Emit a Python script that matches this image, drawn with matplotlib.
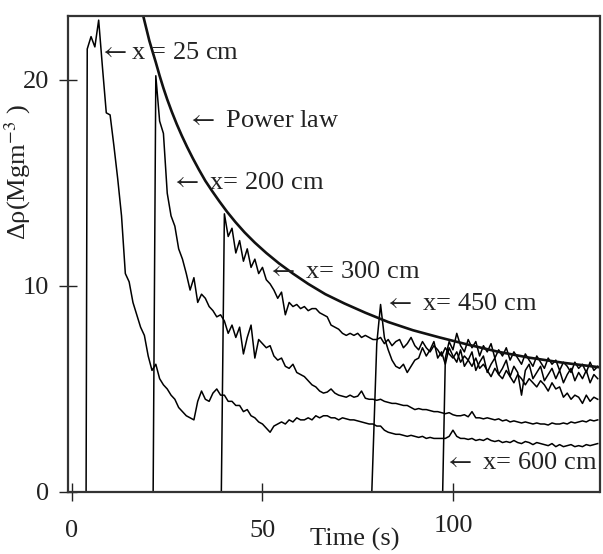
import numpy as np
import matplotlib
matplotlib.use('Agg')
import matplotlib.pyplot as plt
from matplotlib.transforms import ScaledTranslation

plt.rcParams['font.family'] = ['Liberation Serif', 'DejaVu Serif']
plt.rcParams['mathtext.fontset'] = 'stix'

# arrival time of each front (s), first sample time, then one reading per second
a_start, a_t0 = 3.7, 4
a_vals = [21.5, 22.1, 21.6, 22.9, 20.6, 18.4, 18.3, 16.8, 15.2, 13.4,
          10.6, 10.2, 9.2, 8.6, 8.0, 7.6, 6.6, 5.9, 6.2, 5.5,
          5.2, 5.0, 4.7, 4.5, 4.1, 3.9, 3.7, 3.6, 3.5, 4.4,
          4.9, 4.5, 4.4, 4.8, 5.0, 4.7, 4.7, 4.4, 4.4, 4.2,
          4.2, 3.9, 4.0, 3.7, 3.6, 3.4, 3.3, 3.1, 2.9, 3.2,
          3.3, 3.4, 3.3, 3.5, 3.4, 3.6, 3.5, 3.5, 3.6, 3.5,
          3.7, 3.6, 3.7, 3.7, 3.6, 3.6, 3.5, 3.6, 3.55, 3.5,
          3.5, 3.45, 3.4, 3.35, 3.3, 3.3, 3.2, 3.2, 3.0, 2.9,
          2.85, 2.8, 2.8, 2.75, 2.7, 2.75, 2.7, 2.65, 2.7, 2.6,
          2.65, 2.6, 2.6, 2.6, 2.6, 2.7, 3.0, 2.7, 2.6, 2.6,
          2.55, 2.6, 2.5, 2.55, 2.5, 2.6, 2.5, 2.45, 2.5, 2.4,
          2.45, 2.4, 2.5, 2.4, 2.35, 2.45, 2.4, 2.3, 2.4, 2.35,
          2.3, 2.25, 2.35, 2.2, 2.3, 2.2, 2.25, 2.3, 2.2, 2.25,
          2.2, 2.3, 2.25, 2.3, 2.35]

b_start, b_t0 = 21.3, 22
b_vals = [20.2, 18.0, 17.4, 14.5, 13.4, 12.9, 11.8, 11.3, 10.6, 9.8,
          10.4, 9.2, 9.6, 9.4, 9.0, 8.8, 8.5, 8.6, 8.3, 7.7,
          8.1, 7.5, 8.0, 6.7, 7.5, 8.1, 6.5, 7.4, 7.2, 7.0,
          7.1, 6.6, 6.4, 6.5, 6.1, 6.0, 6.2, 5.8, 5.7, 5.6,
          5.4, 5.2, 5.1, 4.9, 4.8, 4.85, 5.0, 4.8, 4.7, 4.65,
          4.6, 4.7, 4.6, 4.65, 4.9, 4.55, 4.5, 4.5, 4.45, 4.5,
          4.4, 4.35, 4.3, 4.3, 4.25, 4.2, 4.2, 4.1, 4.0, 4.05,
          4.0, 4.0, 3.95, 3.9, 3.9, 3.85, 3.8, 3.85, 3.75, 3.7,
          3.7, 3.75, 3.65, 3.9, 3.6, 3.6, 3.55, 3.6, 3.55, 3.5,
          3.55, 3.45, 3.5, 3.4, 3.45, 3.4, 3.35, 3.4, 3.35, 3.3,
          3.35, 3.3, 3.3, 3.25, 3.35, 3.3, 3.3, 3.35, 3.3, 3.4,
          3.35, 3.4, 3.45, 3.4, 3.5, 3.45, 3.5]

c_start, c_t0 = 39.2, 40
c_vals = [13.5, 12.4, 12.8, 11.6, 12.2, 11.2, 11.8, 10.9, 11.3, 10.6,
          10.9, 10.3, 10.1, 9.8, 9.4, 9.7, 8.6, 9.2, 9.0, 9.1,
          8.9, 9.0, 8.8, 8.9, 8.9, 8.7, 8.6, 8.5, 8.1, 8.0,
          7.9, 7.7, 7.6, 7.7, 7.6, 7.7, 7.5, 7.6, 7.5, 7.4,
          7.4, 7.5, 7.2, 7.4, 7.1, 7.3, 7.4, 7.0, 7.2, 7.5,
          7.1, 6.9, 7.3, 7.0, 6.8, 7.1, 6.9, 6.6, 7.0, 6.7,
          6.5, 6.8, 6.3, 6.6, 6.4, 6.1, 6.5, 6.0, 6.2, 5.9,
          5.6, 6.0, 5.7, 5.5, 5.9, 5.6, 5.3, 5.7, 5.5, 5.2,
          5.5, 5.3, 5.1, 5.4, 5.2, 4.9, 5.3, 5.0, 5.1, 4.6,
          4.8, 4.5, 4.7, 4.6, 4.3, 4.7, 4.4, 4.6, 4.5]

d_start, d_t0 = 78.7, 80
d_vals = [7.2, 9.1, 7.5, 6.9, 6.4, 6.1, 6.0, 6.2, 5.8, 6.1,
          6.4, 6.5, 7.0, 6.6, 6.9, 7.3, 6.5, 6.8, 6.2, 7.0,
          6.6, 6.3, 6.9, 6.1, 6.4, 6.8, 5.9, 6.3, 6.6, 5.8,
          6.2, 6.5, 5.7, 6.0, 6.4, 5.6, 6.1, 5.8, 4.7, 5.9,
          6.2, 5.5, 5.8, 6.1, 5.4, 5.7, 6.0, 5.5, 5.9, 5.3,
          5.7, 6.0, 5.4, 5.8, 5.5, 5.9, 5.3, 5.7, 5.5]

e_start, e_t0 = 97.3, 98
e_vals = [6.5, 7.3, 6.9, 7.7, 7.1, 6.8, 7.4, 7.0, 7.3, 6.6,
          7.1, 6.8, 7.2, 6.5, 6.9, 6.6, 7.0, 6.4, 6.8, 6.5,
          6.2, 6.7, 6.4, 6.1, 6.6, 6.3, 6.0, 6.5, 6.2, 6.4,
          5.9, 6.3, 6.1, 5.8, 6.3, 6.0, 6.2, 5.8, 6.3, 5.9,
          6.1]

# power law envelope
power_t = [18.7, 19.5, 20.3, 21.1, 22.0, 23.0, 24.0, 25.0, 26.2, 27.5, 28.8,
           30.2, 31.7, 33.3, 35.0, 36.8, 38.7, 40.7, 42.9, 45.3, 48.0, 51.0,
           54.3, 58.0, 62.0, 66.5, 71.5, 77.0, 83.0, 89.5, 96.5, 104, 112,
           120, 129, 138.6]
power_v = [23.1, 22.5, 21.9, 21.4, 20.85, 20.2, 19.6, 19.05, 18.45, 17.85,
           17.3, 16.75, 16.2, 15.65, 15.1, 14.6, 14.1, 13.6, 13.1, 12.6,
           12.1, 11.6, 11.1, 10.6, 10.1, 9.6, 9.15, 8.7, 8.25, 7.85, 7.5,
           7.15, 6.8, 6.52, 6.27, 6.05]

fig = plt.figure(figsize=(6.03, 5.54), dpi=100)
ax = fig.add_axes([68 / 603, 62 / 554, 532 / 603, 476 / 554])

for start, t0, vals in [(a_start, a_t0, a_vals), (b_start, b_t0, b_vals),
                        (c_start, c_t0, c_vals), (d_start, d_t0, d_vals),
                        (e_start, e_t0, e_vals)]:
    t = np.concatenate(([0, start], np.arange(t0, t0 + len(vals))))
    v = np.concatenate(([0, 0], vals))
    ax.plot(t, v, color='black', lw=1.1)

ax.plot(power_t, power_v, color='#111111', lw=1.9)

fs = 19
ink = '#222222'
arrow = r'$\leftarrow$'
ax.text(7.2, 21.3, arrow + 'x = 25 cm', fontsize=fs, va='center', color=ink)
ax.text(30.3, 18.0, arrow + ' Power law', fontsize=fs, va='center', color=ink)
ax.text(26.1, 15.0, arrow + ' x= 200 cm', fontsize=fs, va='center', color=ink)
ax.text(51.3, 10.7, arrow + ' x= 300 cm', fontsize=fs, va='center', color=ink)
ax.text(82.0, 9.1, arrow + ' x= 450 cm', fontsize=fs, va='center', color=ink)
ax.text(97.7, 1.4, arrow + ' x= 600 cm', fontsize=fs, va='center', color=ink)

ax.set_xlim(-1.05, 138.6)
ax.set_ylim(0, 23.1)
ax.set_xticks([0, 50, 100])
ax.set_yticks([0, 10, 20])
ax.tick_params(direction='inout', length=13, width=1.0, labelsize=fs,
               colors=ink)
ax.tick_params(axis='x', pad=13.5)
ax.tick_params(axis='y', pad=7)

for s in ax.spines.values():
    s.set_linestyle((0, (1, 1)))
    s.set_linewidth(1.6)
    s.set_color('#333333')

ax.set_xlabel('Time (s)', fontsize=fs, color=ink)
ax.xaxis.set_label_coords(0.5395, -0.0756)
ax.set_ylabel(r'Δρ(Mgm$^{-3}$ )', fontsize=fs, color=ink)
ax.yaxis.set_label_coords(-0.066, 0.672)

# the "100" label sits a little higher in the original
lab = ax.xaxis.get_major_ticks()[2].label1
lab.set_transform(lab.get_transform() + ScaledTranslation(0, 5 / 100, fig.dpi_scale_trans))

fig.savefig('out.png', dpi=100)
